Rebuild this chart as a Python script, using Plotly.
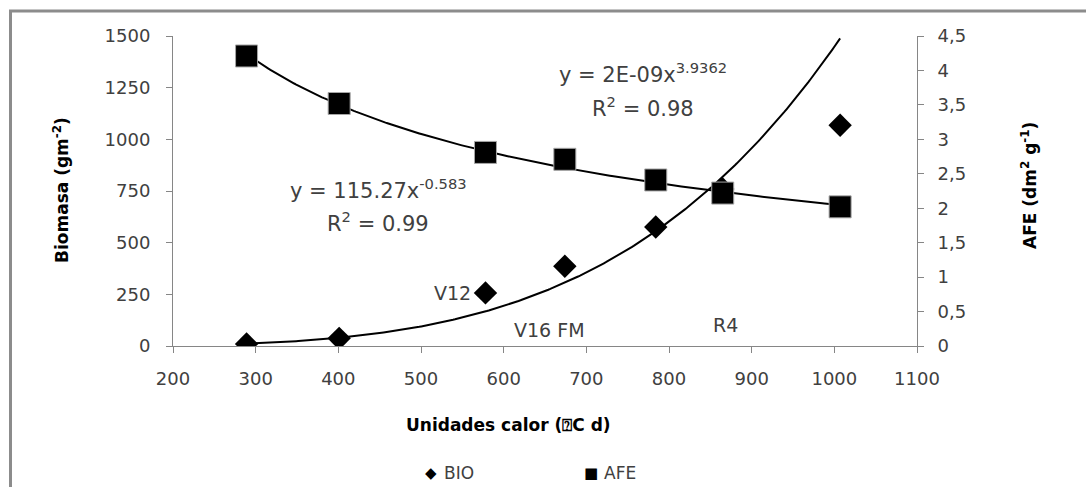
import numpy as np
import plotly.graph_objects as go

# Heat units (°C d) at each sampling date
heat_units = [289, 401, 578, 674, 784, 865, 1007]
# Above-ground biomass (g m-2)
biomass = [10, 37, 257, 386, 576, 760, 1068]
# Specific leaf area AFE (dm2 g-1)
afe = [4.21, 3.52, 2.81, 2.71, 2.41, 2.22, 2.02]

# Power-law trendlines y = a * x^b
bio_coef, bio_exp = 2.25e-9, 3.9362
afe_coef, afe_exp = 115.27, -0.583

# Phenological stage labels: (heat units, biomass level, text)
stage_x = [538, 656, 868]
stage_y = [255, 77, 102]
stage_text = ["V12", "V16 FM", "R4"]

W, H = 1086, 487
ML, MR, MT, MB = 173, 169, 36, 141
PW, PH = W - ML - MR, H - MT - MB

def px(x):
    return (x - ML) / PW

def py(y):
    return (H - MB - y) / PH

FONT = "DejaVu Sans"
TXT = "#404040"
AX = "#868686"

x_fit = np.linspace(min(heat_units), max(heat_units), 300)
bio_fit = bio_coef * x_fit ** bio_exp
afe_fit = afe_coef * x_fit ** afe_exp

fig = go.Figure()

fig.add_trace(go.Scatter(x=x_fit, y=bio_fit, mode="lines",
                         line=dict(color="black", width=2),
                         showlegend=False, hoverinfo="skip"))
fig.add_trace(go.Scatter(x=heat_units, y=biomass, mode="markers", name="BIO",
                         marker=dict(symbol="diamond", size=18, color="black",
                                     line=dict(width=0)),
                         showlegend=False))
fig.add_trace(go.Scatter(x=x_fit, y=afe_fit, mode="lines", yaxis="y2",
                         line=dict(color="black", width=2),
                         showlegend=False, hoverinfo="skip"))
fig.add_trace(go.Scatter(x=heat_units, y=afe, mode="markers", name="AFE", yaxis="y2",
                         marker=dict(symbol="square", size=22, color="black",
                                     line=dict(width=1, color="#a6a6a6")),
                         showlegend=False))

annotations = [
    dict(x=px(643), y=py(73), text="y = 2E-09x<sup>3.9362</sup>"),
    dict(x=px(643), y=py(107), text="R<sup>2</sup> = 0.98"),
    dict(x=px(378), y=py(189), text="y = 115.27x<sup>-0.583</sup>"),
    dict(x=px(378), y=py(222), text="R<sup>2</sup> = 0.99"),
]
for a in annotations:
    a.update(xref="paper", yref="paper", showarrow=False,
             font=dict(family=FONT, size=21, color=TXT),
             xanchor="center", yanchor="middle")

for sx, sy, st in zip(stage_x, stage_y, stage_text):
    annotations.append(dict(x=sx, y=sy, xref="x", yref="y", text=st, showarrow=False,
                            font=dict(family=FONT, size=19, color=TXT),
                            xanchor="center", yanchor="middle"))

# Axis titles
annotations += [
    dict(x=px(61), y=py(190), xref="paper", yref="paper", showarrow=False,
         text="<b>Biomasa (gm<sup>-2</sup>)</b>", textangle=-90,
         font=dict(family=FONT, size=17, color="black"),
         xanchor="center", yanchor="middle"),
    dict(x=px(1029), y=py(186), xref="paper", yref="paper", showarrow=False,
         text="<b>AFE (dm<sup>2</sup> g<sup>-1</sup>)</b>", textangle=-90,
         font=dict(family=FONT, size=17, color="black"),
         xanchor="center", yanchor="middle"),
    dict(x=px(508), y=py(425), xref="paper", yref="paper", showarrow=False,
         text="<b>Unidades calor (⍰C d)</b>",
         font=dict(family=FONT, size=17, color="black"),
         xanchor="center", yanchor="middle"),
]

# Legend entries (symbol + label)
legend_items = [(431, "◆", "BIO"), (591, "■", "AFE")]
for lx, sym, lab in legend_items:
    annotations.append(dict(x=px(lx), y=py(473), xref="paper", yref="paper",
                            showarrow=False, text=sym,
                            font=dict(family=FONT, size=15, color="black"),
                            xanchor="center", yanchor="middle"))
    annotations.append(dict(x=px(lx + 11), y=py(473), xref="paper", yref="paper",
                            showarrow=False, text=lab,
                            font=dict(family=FONT, size=17, color=TXT),
                            xanchor="left", yanchor="middle"))

axis_common = dict(showgrid=False, zeroline=False, showline=True, linecolor=AX,
                   linewidth=1, ticks="outside", tickcolor=AX, ticklen=6,
                   tickfont=dict(family=FONT, size=18, color=TXT))

fig.update_layout(
    width=W, height=H,
    margin=dict(l=ML, r=MR, t=MT, b=MB, autoexpand=False),
    paper_bgcolor="white", plot_bgcolor="white",
    separators=",.",
    showlegend=False,
    xaxis=dict(range=[200, 1100], dtick=100, tick0=200, ticklabelstandoff=10,
               **axis_common),
    yaxis=dict(range=[0, 1500], dtick=250, tick0=0, ticklabelstandoff=12,
               **axis_common),
    yaxis2=dict(range=[0, 4.5], dtick=0.5, tick0=0, overlaying="y", side="right",
                ticklabelstandoff=10, **axis_common),
    annotations=annotations,
    shapes=[dict(type="rect", xref="paper", yref="paper",
                 x0=px(10.5), x1=px(W + 20), y0=py(H + 20), y1=py(11),
                 line=dict(color="#8c8c8c", width=3), fillcolor="rgba(0,0,0,0)",
                 layer="below")],
)

fig.write_html("out.html")
